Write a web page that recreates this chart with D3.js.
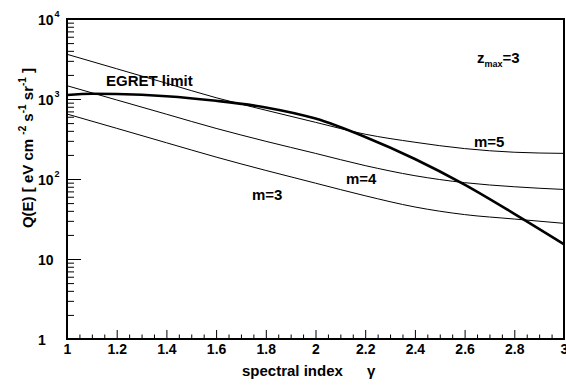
<!DOCTYPE html>
<html><head><meta charset="utf-8">
<script src="https://cdn.jsdelivr.net/npm/d3@7"></script>
<style>
body{margin:0;background:#fff}
svg{display:block}
text{font-family:"Liberation Sans",Arial,Helvetica,sans-serif;font-weight:bold;fill:#000}
</style>
</head><body>
<svg id="c" width="566" height="385"></svg>
<script>
// ---- data ----
const gammaGrid = [1.0,1.2,1.4,1.6,1.8,2.0,2.2,2.4,2.6,2.8,3.0];
const m3 = [649,430,284,188,128,88.7,61.7,44.7,35.9,31.6,27.9];
const m4 = [1466,973,646,429,296,209,147,110,90,80,74];
const m5 = [3622,2388,1574,1038,724,511,363,288,240,216,209];
const egretGamma = [1.0,1.1,1.2,1.4,1.6,1.8,2.0,2.2,2.4,2.6,2.8,3.0];
const egret = [1122,1161,1153,1084,950,785,569,335,178,85,36.7,15.3];
const xTickValues = [1,1.2,1.4,1.6,1.8,2,2.2,2.4,2.6,2.8,3];
const xTickLabels = ["1","1.2","1.4","1.6","1.8","2","2.2","2.4","2.6","2.8","3"];
const yTickValues = [1,10,100,1000,10000];
const yTickBase = ["1","10","10","10","10"];
const yTickExp  = ["","","2","3","4"];

const svg = d3.select("#c");
const L=67, R=564, T=19, B=339;
const x = d3.scaleLinear().domain([1,3]).range([L,R]);
const y = d3.scaleLog().domain([1,1e4]).range([B,T]);

// minor ticks positions
const xMinor = d3.range(1,3.0001,0.05).map(v=>+v.toFixed(2)).filter(v=>Math.abs(v*5-Math.round(v*5))>1e-6);
const yMinor = [];
[1,10,100,1000].forEach(d=>{for(let k=2;k<=9;k++) yMinor.push(d*k);});

// x axis
const gx = svg.append("g").attr("transform",`translate(0,${B})`)
  .call(d3.axisBottom(x).tickValues(xTickValues).tickSize(-9).tickPadding(5)
    .tickFormat((d,i)=>xTickLabels[i]));
gx.select(".domain").remove();
gx.selectAll("line").attr("stroke","#000").attr("stroke-width",1);
gx.selectAll("text").attr("font-size",14).attr("font-family",null);
const gxm = svg.append("g").attr("transform",`translate(0,${B})`)
  .call(d3.axisBottom(x).tickValues(xMinor).tickSize(-4.5).tickFormat(""));
gxm.select(".domain").remove();
gxm.selectAll("line").attr("stroke","#000");

// y axis
const gy = svg.append("g").attr("transform",`translate(${L},0)`)
  .call(d3.axisLeft(y).tickValues(yTickValues).tickSize(-14).tickFormat(""));
gy.select(".domain").remove();
gy.selectAll("line").attr("stroke","#000");
const gym = svg.append("g").attr("transform",`translate(${L},0)`)
  .call(d3.axisLeft(y).tickValues(yMinor).tickSize(-7).tickFormat(""));
gym.select(".domain").remove();
gym.selectAll("line").attr("stroke","#000");

// y tick labels
yTickValues.forEach((v,i)=>{
  const t = svg.append("text").attr("x",38).attr("y",y(v)+6).attr("font-size",14);
  t.append("tspan").text(yTickBase[i]);
  if(yTickExp[i]) t.append("tspan").attr("font-size",9).attr("dy",-8).attr("dx",1).text(yTickExp[i]);
});

// curves
const line = d3.line().x(d=>x(d[0])).y(d=>y(d[1])).curve(d3.curveMonotoneX);
const clip = svg.append("clipPath").attr("id","pc").append("rect")
  .attr("x",L).attr("y",T).attr("width",R-L).attr("height",B-T);
const curves = svg.append("g").attr("clip-path","url(#pc)");
[m3,m4,m5].forEach(s=>{
  curves.append("path").datum(gammaGrid.map((g,i)=>[g,s[i]]))
    .attr("d",line).attr("fill","none").attr("stroke","#000").attr("stroke-width",1);
});
curves.append("path").datum(egretGamma.map((g,i)=>[g,egret[i]]))
  .attr("d",line).attr("fill","none").attr("stroke","#000").attr("stroke-width",2.6);

// frame
svg.append("rect").attr("x",L).attr("y",T).attr("width",R-L).attr("height",B-T)
  .attr("fill","none").attr("stroke","#000").attr("stroke-width",2);

// labels
svg.append("text").attr("x",106).attr("y",86).attr("font-size",15).text("EGRET limit");
svg.append("text").attr("x",474).attr("y",147).attr("font-size",15).text("m=5");
svg.append("text").attr("x",346).attr("y",183.5).attr("font-size",15).text("m=4");
svg.append("text").attr("x",252).attr("y",200).attr("font-size",15).text("m=3");
const z = svg.append("text").attr("x",477).attr("y",63).attr("font-size",15);
z.append("tspan").text("z");
z.append("tspan").attr("font-size",9).attr("dy",4).text("max");
z.append("tspan").attr("dy",-4).text("=3");

// axis titles
svg.append("text").attr("x",242).attr("y",376).attr("font-size",15).text("spectral index");
svg.append("text").attr("x",367).attr("y",376).attr("font-size",15)
  .attr("font-family","'Liberation Serif','DejaVu Serif',serif").attr("font-weight","normal").text("γ");
const yt = svg.append("text").attr("transform","translate(33,148) rotate(-90)")
  .attr("text-anchor","middle").attr("font-size",15);
yt.append("tspan").text("Q(E) [ eV cm ");
yt.append("tspan").attr("font-size",10).attr("dy",-7).text("-2");
yt.append("tspan").attr("dy",7).text(" s");
yt.append("tspan").attr("font-size",10).attr("dy",-7).text("-1");
yt.append("tspan").attr("dy",7).text(" sr");
yt.append("tspan").attr("font-size",10).attr("dy",-7).text("-1");
yt.append("tspan").attr("dy",7).text(" ]");
</script>
</body></html>
